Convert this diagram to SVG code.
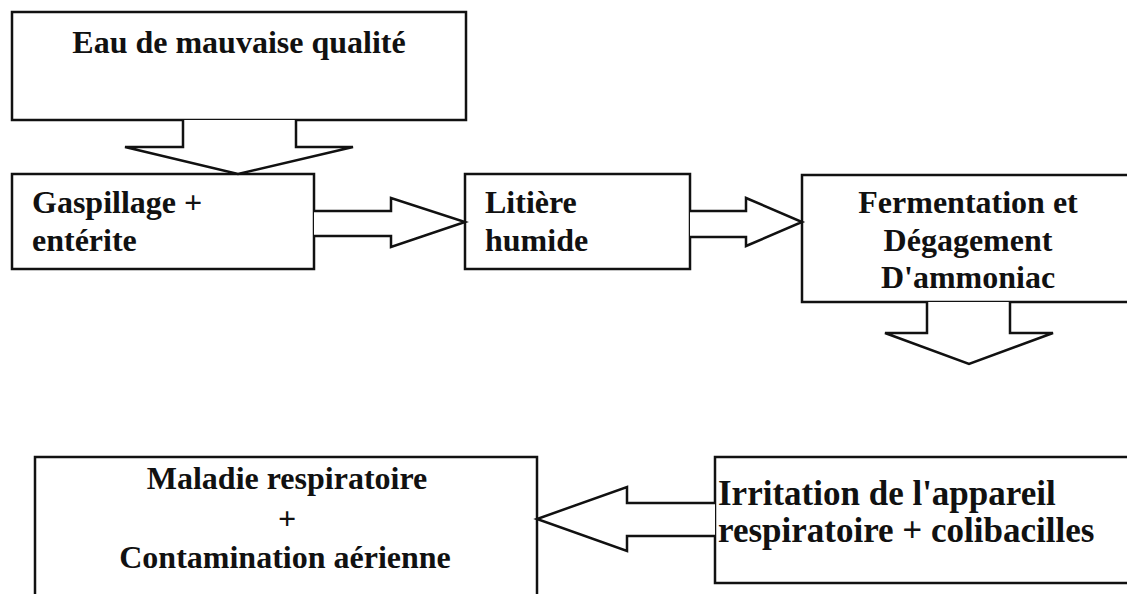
<svg xmlns="http://www.w3.org/2000/svg" width="1127" height="594" viewBox="0 0 1127 594">
<style>
.box{fill:#fff;stroke:#111;stroke-width:2.5}
.arr{fill:#fff;stroke:#111;stroke-width:2.5;stroke-linejoin:miter}
text{font-family:"Liberation Serif","Times New Roman",serif;font-weight:bold;font-size:32px;fill:#111}
.c{text-anchor:middle}
.big{font-size:35px}
</style>
<rect width="1127" height="594" fill="#fff"/>
<g id="node-eau">
<rect class="box" x="12" y="12" width="454" height="108"/>
<text class="c" x="239" y="53">Eau de mauvaise qualité</text>
</g>
<g id="node-gaspillage">
<rect class="box" x="12" y="174" width="302" height="95"/>
<text x="32" y="213">Gaspillage +</text>
<text x="32" y="251">entérite</text>
</g>
<g id="node-litiere">
<rect class="box" x="465" y="174" width="225" height="95"/>
<text x="485" y="213">Litière</text>
<text x="485" y="251">humide</text>
</g>
<g id="node-fermentation">
<rect class="box" x="802" y="175" width="330" height="127"/>
<text class="c" x="968" y="213">Fermentation et</text>
<text class="c" x="968" y="251">Dégagement</text>
<text class="c" x="968" y="288">D'ammoniac</text>
</g>
<g id="node-irritation">
<rect class="box" x="715" y="457" width="417" height="126"/>
<text class="big" x="718" y="505">Irritation de l'appareil</text>
<text class="big" x="718" y="542">respiratoire + colibacilles</text>
</g>
<g id="node-maladie">
<rect class="box" x="35" y="457" width="502" height="150"/>
<text class="c" x="287" y="489">Maladie respiratoire</text>
<text class="c" x="287" y="529">+</text>
<text class="c" x="285" y="568">Contamination aérienne</text>
</g>
<g id="connectors">
<path class="arr" d="M183,120 V147 H125 L238,174 L353,147 H296 V120"/>
<path class="arr" d="M314,211 H391 V198 L465,222 L391,247 V236 H314"/>
<path class="arr" d="M690,211 H746 V198 L802,222 L746,246 V237 H690"/>
<path class="arr" d="M927,302 V333 H885 L969,364 L1053,333 H1010 V302"/>
<path class="arr" d="M715,503 H627 V487 L537,519 L627,551 V536 H715"/>
</g>
</svg>
